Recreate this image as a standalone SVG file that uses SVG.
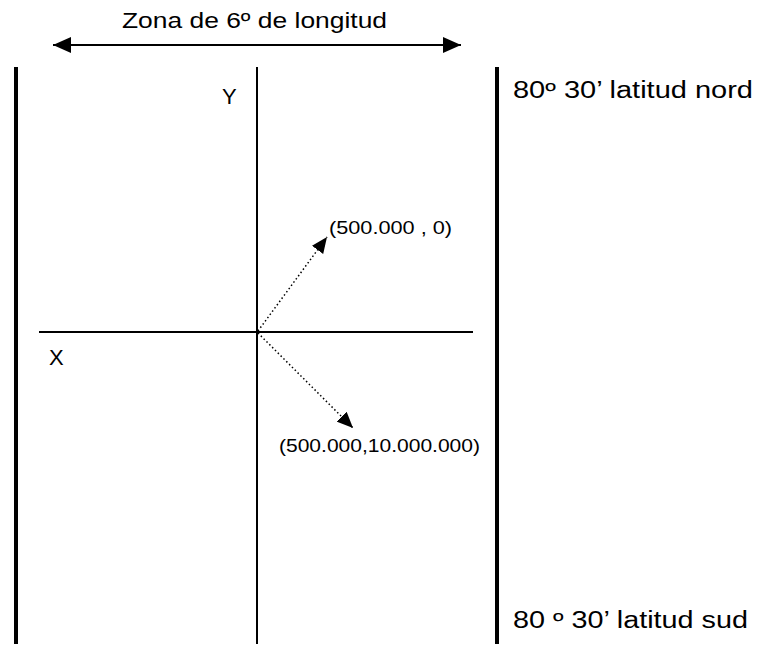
<svg xmlns="http://www.w3.org/2000/svg" width="760" height="646" viewBox="0 0 760 646">
  <style>
    text { font-family: "Liberation Sans", Arial, sans-serif; fill: #000; }
    .thick { stroke: #000; stroke-width: 4; fill: none; }
    .axis { stroke: #000; stroke-width: 2; fill: none; }
    .dot { stroke: #000; stroke-width: 1.5; stroke-dasharray: 1.5 2.5; fill: none; }
    .span { stroke: #000; stroke-width: 2; fill: none; }
  </style>
  <defs>
    <marker id="bigHead" markerUnits="userSpaceOnUse" markerWidth="18" markerHeight="16" refX="18" refY="8" orient="auto-start-reverse">
      <path d="M0,0 L18,8 L0,16 z" fill="#000"/>
    </marker>
    <marker id="head" markerUnits="userSpaceOnUse" markerWidth="16" markerHeight="14" refX="16" refY="7" orient="auto">
      <path d="M0,0 L16,7 L0,14 z" fill="#000"/>
    </marker>
  </defs>
  <rect width="760" height="646" fill="#fff"/>

  <g id="zone-borders">
    <line class="thick" x1="16" y1="67" x2="16" y2="644"/>
    <line class="thick" x1="497" y1="67" x2="497" y2="644"/>
  </g>

  <g id="axes">
    <line class="axis" x1="257" y1="67" x2="257" y2="644"/>
    <line class="axis" x1="39" y1="332" x2="473" y2="332"/>
    <text x="222" y="104" font-size="22">Y</text>
    <text x="49" y="365" font-size="22">X</text>
  </g>

  <g id="zone-width">
    <text x="122" y="28" font-size="22" textLength="265" lengthAdjust="spacingAndGlyphs">Zona de 6º de longitud</text>
  </g>

  <g id="lat-north">
    <text x="513" y="98" font-size="23" textLength="240" lengthAdjust="spacingAndGlyphs">80º 30’ latitud nord</text>
  </g>

  <g id="lat-south">
    <text x="513" y="628" font-size="23" textLength="235" lengthAdjust="spacingAndGlyphs">80 º 30’ latitud sud</text>
  </g>

  <g id="point-origin">
    <text x="329" y="234" font-size="19" textLength="123" lengthAdjust="spacingAndGlyphs">(500.000 , 0)</text>
  </g>

  <g id="point-south">
    <text x="279" y="452" font-size="19" textLength="201" lengthAdjust="spacingAndGlyphs">(500.000,10.000.000)</text>
  </g>

  <g id="connectors">
    <line class="span" x1="53" y1="45" x2="461" y2="45" marker-start="url(#bigHead)" marker-end="url(#bigHead)"/>
    <line class="dot" x1="258" y1="331" x2="327" y2="237" marker-end="url(#head)"/>
    <line class="dot" x1="258" y1="333" x2="353" y2="428" marker-end="url(#head)"/>
  </g>
</svg>
